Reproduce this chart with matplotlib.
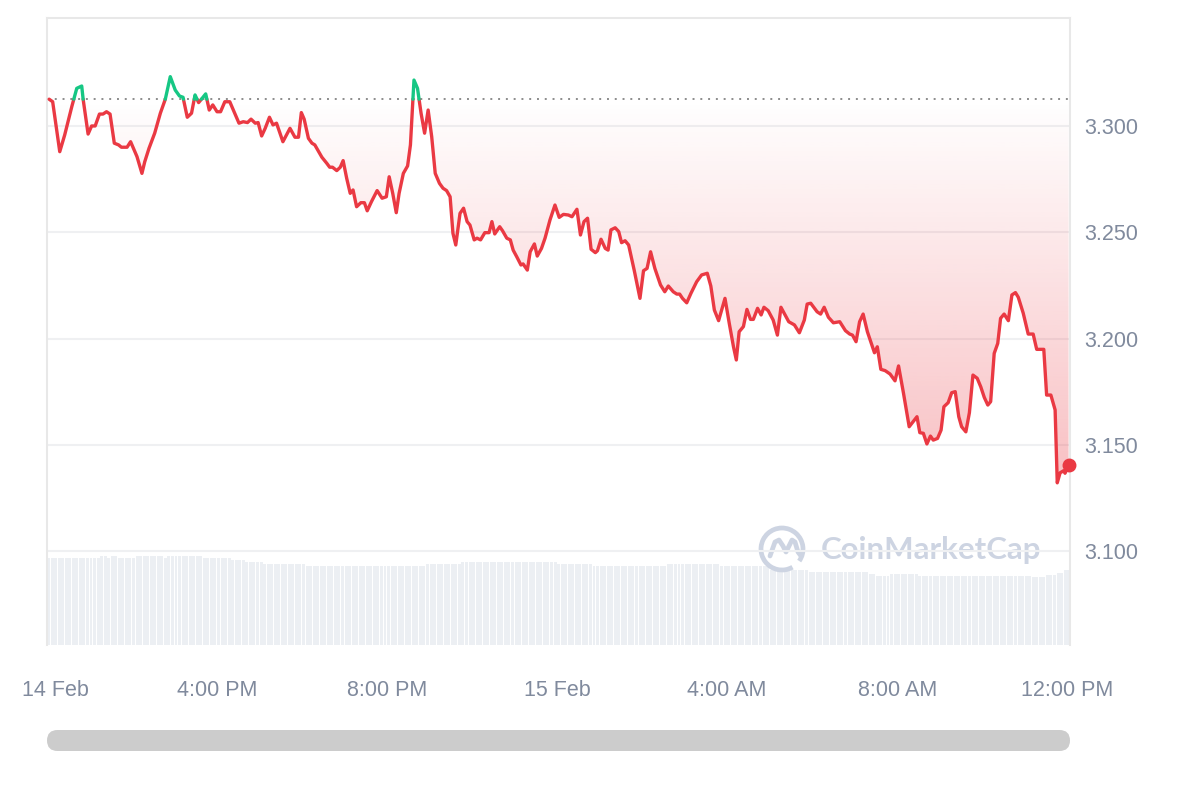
import numpy as np
import matplotlib
matplotlib.use("Agg")
import matplotlib.pyplot as plt
from matplotlib.patches import Arc, FancyBboxPatch
from matplotlib.transforms import ScaledTranslation

plt.rcParams['font.family'] = ['Liberation Sans', 'DejaVu Sans']

# minutes after 14 Feb 12:00 PM
minutes = [
    3, 8, 18, 25, 35, 42, 49, 51, 58, 63,
    68, 74, 79, 84, 89, 95, 101, 105, 113, 118,
    123, 127, 134, 138, 144, 152, 160, 167, 174, 181,
    187, 192, 198, 204, 209, 214, 218, 224, 229, 234,
    240, 245, 251, 258, 263, 271, 277, 283, 288, 294,
    298, 303, 308, 314, 319, 324, 333, 343, 350, 355,
    359, 363, 369, 374, 378, 388, 395, 399, 403, 409,
    414, 418, 423, 428, 432, 437, 443, 448, 452, 458,
    466, 473, 479, 483, 488, 493, 497, 503, 509, 513,
    518, 523, 528, 533, 538, 543, 548, 554, 559, 564,
    569, 573, 577, 583, 588, 593, 597, 603, 607, 612,
    618, 624, 628, 632, 639, 643, 649, 654, 658, 663,
    669, 672, 678, 682, 688, 692, 698, 703, 710, 717,
    723, 729, 736, 741, 748, 753, 758, 763, 768, 774,
    777, 782, 788, 792, 796, 802, 807, 811, 816, 821,
    829, 837, 842, 847, 852, 858, 866, 872, 877, 884,
    889, 893, 897, 903, 909, 917, 924, 932, 937, 942,
    948, 953, 957, 963, 969, 973, 977, 983, 988, 993,
    997, 1003, 1008, 1012, 1018, 1025, 1031, 1036, 1047, 1055,
    1062, 1069, 1073, 1078, 1087, 1092, 1097, 1103, 1110, 1119,
    1127, 1133, 1137, 1142, 1147, 1152, 1158, 1168, 1172, 1177,
    1183, 1190, 1197, 1202, 1209, 1217, 1228, 1232, 1237, 1242,
    1247, 1251, 1257, 1262, 1266, 1272, 1277, 1282, 1287, 1291,
    1297, 1302, 1307, 1313, 1318, 1323, 1328, 1332, 1337, 1342,
    1346, 1351, 1357, 1362, 1367, 1371, 1378, 1385, 1392, 1397,
    1407, 1411, 1417, 1423, 1426, 1430, 1435, 1437, 1442,
]

prices = [
    3.3126, 3.3114, 3.2879, 3.2958, 3.3091, 3.3177, 3.3188, 3.3126, 3.2962, 3.3000,
    3.3000, 3.3056, 3.3056, 3.3067, 3.3056, 3.2919, 3.2911, 3.2900, 3.2900, 3.2926,
    3.2887, 3.2856, 3.2777, 3.2832, 3.2895, 3.2966, 3.3060, 3.3126, 3.3232, 3.3169,
    3.3141, 3.3135, 3.3041, 3.3060, 3.3146, 3.3110, 3.3126, 3.3151, 3.3075, 3.3099,
    3.3067, 3.3067, 3.3114, 3.3114, 3.3075, 3.3013, 3.3020, 3.3016, 3.3032, 3.3013,
    3.3016, 3.2953, 3.2989, 3.3041, 3.3005, 3.3013, 3.2926, 3.2989, 3.2947, 3.2947,
    3.3063, 3.3032, 3.2942, 3.2919, 3.2911, 3.2853, 3.2824, 3.2806, 3.2806, 3.2790,
    3.2806, 3.2837, 3.2754, 3.2683, 3.2699, 3.2620, 3.2639, 3.2639, 3.2601, 3.2644,
    3.2696, 3.2660, 3.2667, 3.2761, 3.2683, 3.2592, 3.2683, 3.2777, 3.2812, 3.2911,
    3.3216, 3.3177, 3.3060, 3.2966, 3.3075, 3.2950, 3.2777, 3.2730, 3.2707, 3.2696,
    3.2667, 3.2495, 3.2440, 3.2589, 3.2613, 3.2550, 3.2534, 3.2464, 3.2472, 3.2464,
    3.2498, 3.2498, 3.2550, 3.2492, 3.2526, 3.2507, 3.2472, 3.2464, 3.2416, 3.2385,
    3.2346, 3.2351, 3.2322, 3.2408, 3.2445, 3.2388, 3.2424, 3.2472, 3.2558, 3.2628,
    3.2570, 3.2584, 3.2581, 3.2573, 3.2608, 3.2487, 3.2550, 3.2566, 3.2420, 3.2404,
    3.2413, 3.2467, 3.2424, 3.2416, 3.2511, 3.2521, 3.2503, 3.2451, 3.2460, 3.2440,
    3.2319, 3.2189, 3.2319, 3.2330, 3.2408, 3.2330, 3.2252, 3.2220, 3.2247, 3.2220,
    3.2209, 3.2209, 3.2189, 3.2168, 3.2213, 3.2267, 3.2299, 3.2307, 3.2247, 3.2134,
    3.2084, 3.2142, 3.2189, 3.2072, 3.1961, 3.1899, 3.2032, 3.2056, 3.2137, 3.2090,
    3.2090, 3.2142, 3.2111, 3.2147, 3.2131, 3.2087, 3.2016, 3.2147, 3.2079, 3.2064,
    3.2027, 3.2087, 3.2162, 3.2166, 3.2126, 3.2115, 3.2147, 3.2100, 3.2074, 3.2079,
    3.2037, 3.2021, 3.2016, 3.1985, 3.2079, 3.2115, 3.2032, 3.1933, 3.1961, 3.1855,
    3.1849, 3.1833, 3.1801, 3.1871, 3.1742, 3.1585, 3.1632, 3.1557, 3.1554, 3.1504,
    3.1541, 3.1522, 3.1530, 3.1569, 3.1679, 3.1698, 3.1745, 3.1750, 3.1632, 3.1585,
    3.1561, 3.1651, 3.1828, 3.1813, 3.1773, 3.1723, 3.1687, 3.1703, 3.1930, 3.1977,
    3.2095, 3.2115, 3.2084, 3.2205, 3.2216, 3.2194, 3.2119, 3.2021, 3.2021, 3.1949,
    3.1949, 3.1734, 3.1734, 3.1664, 3.1321, 3.1368, 3.1378, 3.1366, 3.1405,
]

# 24h volume (millions), step changes at these minutes
vol_edges = [0, 75, 85, 90, 100, 125, 165, 170, 220, 260, 280, 305, 365, 535, 585,
             720, 770, 875, 950, 1020, 1075, 1160, 1170, 1190, 1230, 1390, 1410, 1425, 1435, 1445]
vol_values = [174, 178, 174, 178, 174, 178, 174, 178, 174, 170, 166, 162, 158, 162, 166,
              162, 158, 162, 158, 150, 146, 142, 138, 142, 138, 136, 140, 144, 150]

tick_minutes = [0, 240, 480, 720, 960, 1200, 1440]
tick_labels = ['14 Feb', '4:00 PM', '8:00 PM', '15 Feb', '4:00 AM', '8:00 AM', '12:00 PM']
price_ticks = [3.100, 3.150, 3.200, 3.250, 3.300]

RED = '#EA3943'
GREEN = '#16C784'
LABEL = '#808A9D'

t = np.array(minutes, dtype=float)
p = np.array(prices)
ref = p[0]

# insert crossing points so the line changes colour exactly at the reference
t_ext, p_ext = [], []
for i in range(len(t) - 1):
    t_ext.append(t[i]); p_ext.append(p[i])
    if (p[i] - ref) * (p[i + 1] - ref) < 0:
        f = (ref - p[i]) / (p[i + 1] - p[i])
        t_ext.append(t[i] + f * (t[i + 1] - t[i])); p_ext.append(ref)
t_ext.append(t[-1]); p_ext.append(p[-1])
t_ext = np.array(t_ext); p_ext = np.array(p_ext)
below = np.where(p_ext <= ref, p_ext, np.nan)
above = np.where(p_ext >= ref, p_ext, np.nan)

fig = plt.figure(figsize=(12, 8), dpi=100)
rect = [47 / 1200, 1 - 645 / 800, 1023 / 1200, 627 / 800]

# volume bars in their own axes behind the price
axv = fig.add_axes(rect, zorder=0)
bar_t = np.arange(0, 1445, 5)
bar_v = np.array(vol_values)[np.searchsorted(vol_edges, bar_t, side='right') - 1]
axv.bar(bar_t, bar_v, width=4.2, align='edge', color='#ECEFF3', linewidth=0)
axv.set_xlim(0, 1444)
axv.set_ylim(0, 1254)
axv.axis('off')

# overlay for watermark and scrollbar, pixel coordinates
ov = fig.add_axes([0, 0, 1, 1], zorder=1)
ov.set_xlim(0, 1200)
ov.set_ylim(800, 0)
ov.axis('off')
ov.patch.set_alpha(0)
wm = '#CDD4E2'
ov.add_patch(Arc((782, 549), 42, 42, theta1=60, theta2=395, lw=3.4, color=wm))
ov.plot([770, 775, 779, 783, 786, 789, 792, 795, 798, 801],
        [556, 542, 540, 546, 552, 546, 540, 542, 552, 556],
        color=wm, lw=3.4, solid_capstyle='round', solid_joinstyle='round')
ov.text(821, 550, 'CoinMarketCap', fontsize=22.5, fontweight='bold', color=wm,
        family=['Lato', 'DejaVu Sans'], va='center', ha='left')
ov.add_patch(FancyBboxPatch((47, 730), 1023, 21, boxstyle='round,pad=0,rounding_size=10.5',
                            facecolor='#CCCCCC', edgecolor='none'))

# price axes
ax = fig.add_axes(rect, zorder=2)
ax.patch.set_alpha(0)
for yv in price_ticks:
    ax.axhline(yv, color='#EFF0F2', lw=1.5, zorder=0)

poly = ax.fill_between(t_ext, p_ext, ref, facecolor='none', edgecolor='none')
grad = np.zeros((256, 1, 4))
grad[..., :3] = matplotlib.colors.to_rgb(RED)
grad[:, 0, 3] = np.linspace(0.32, 0.0, 256)
im = ax.imshow(grad, aspect='auto', origin='lower', extent=[t.min(), t.max(), p.min(), ref], zorder=1)
im.set_clip_path(poly.get_paths()[0], transform=ax.transData)

ax.axhline(ref, color='#8C8C8C', lw=1.4, linestyle=(0, (1, 3)), zorder=2)
ax.plot(t_ext, below, color=RED, lw=2.4, solid_joinstyle='round', solid_capstyle='round', zorder=3)
ax.plot(t_ext, above, color=GREEN, lw=2.4, solid_joinstyle='round', solid_capstyle='round', zorder=3)
ax.plot(t[-1], p[-1], 'o', ms=9, color=RED, zorder=4, clip_on=False)

ax.set_xlim(0, 1444)
ax.set_ylim(3.0558, 3.3508)
ax.yaxis.tick_right()
ax.set_yticks(price_ticks)
ax.set_yticklabels([f'{v:.3f}' for v in price_ticks])
ax.set_xticks(tick_minutes)
ax.set_xticklabels(tick_labels)
ax.tick_params(axis='both', length=0, labelsize=15.5, labelcolor=LABEL)
ax.tick_params(axis='y', pad=10)
ax.tick_params(axis='x', pad=25)
first = ax.xaxis.get_major_ticks()[0].label1
first.set_transform(first.get_transform() + ScaledTranslation(0.08, 0, fig.dpi_scale_trans))

for side in ['left', 'right', 'top']:
    ax.spines[side].set_color('#E8E8E8')
    ax.spines[side].set_linewidth(1.5)
ax.spines['bottom'].set_visible(False)

fig.savefig('out.png', dpi=100, facecolor='white')
